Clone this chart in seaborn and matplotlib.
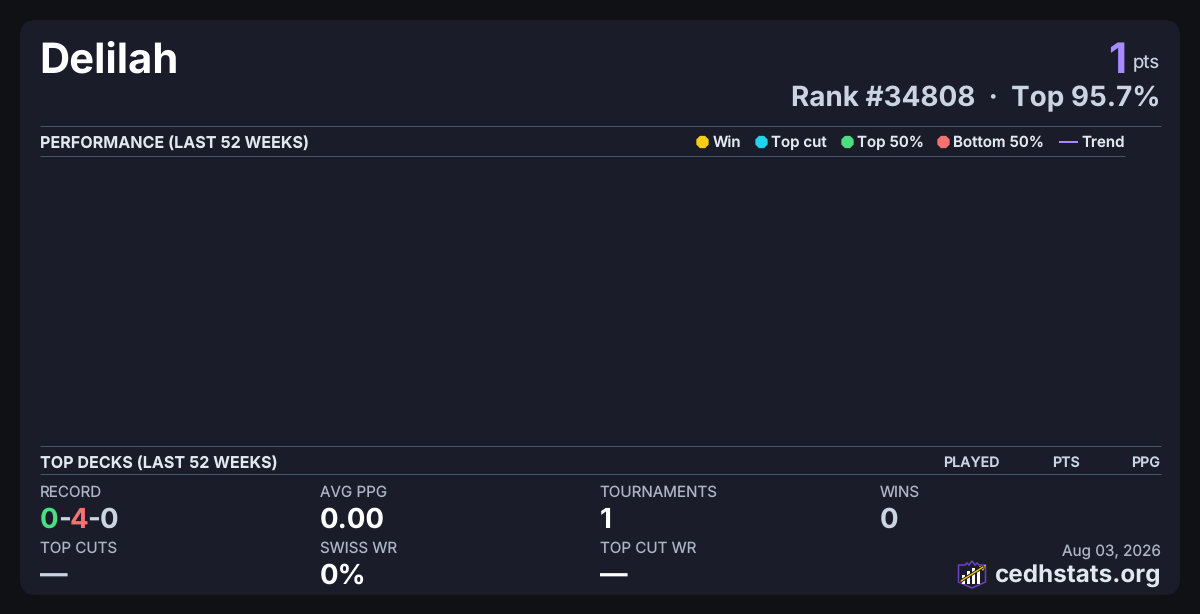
import matplotlib
matplotlib.use("Agg")
import matplotlib.pyplot as plt
from matplotlib.patches import FancyBboxPatch, Polygon, Rectangle
import pandas as pd
import seaborn as sns

# chart content
player = "Delilah"
points = "1"
rank_line = "Rank #34808  ·  Top 95.7%"
perf_title = "PERFORMANCE (LAST 52 WEEKS)"
decks_title = "TOP DECKS (LAST 52 WEEKS)"
legend_labels = ["Win", "Top cut", "Top 50%", "Bottom 50%"]
legend_colors = ["#facc15", "#22d3ee", "#4ade80", "#f87171"]
deck_columns = ["PLAYED", "PTS", "PPG"]
stat_labels = ["AVG PPG", "TOURNAMENTS", "WINS", "TOP CUTS", "SWISS WR", "TOP CUT WR"]
stat_values = ["0.00", "1", "0", "—", "0%", "—"]
record_parts = ["0", "-", "4", "-", "0"]
record_colors = ["#4ade80", "#cbd5e1", "#f87171", "#cbd5e1", "#cbd5e1"]
snapshot_date = "Aug 03, 2026"
site = "cedhstats.org"

BG = "#0f1115"
CARD = "#1a1d29"
RULE = "#475569"
LIGHT = "#e2e8f0"
MUTED = "#cbd5e1"
GREY = "#aeb6c4"
PURPLE = "#a78bfa"

sns.set_theme(style="white")
plt.rcParams["font.family"] = ["Inter", "DejaVu Sans"]
plt.rcParams["text.hinting"] = "no_hinting"

fig = plt.figure(figsize=(12, 6.14), dpi=100, facecolor=BG)
ax = fig.add_axes([0, 0, 1, 1])
ax.set_xlim(0, 1200)
ax.set_ylim(614, 0)
ax.axis("off")


def label(x, y, s, px, color=LIGHT, weight=400, ha="left"):
    # font size given in css pixels, y is the baseline
    return ax.text(x, y, s, fontsize=px * 0.72, color=color, fontweight=weight, ha=ha, va="baseline")


ax.add_patch(FancyBboxPatch((20, 20), 1160, 575, boxstyle="round,pad=0,rounding_size=16",
                            facecolor=CARD, edgecolor="none"))

# header
label(39.5, 73, player, 41.8, "#ffffff", 700)
label(1160, 68, "pts", 18.5, MUTED, ha="right")
label(1126.5, 73, points, 42, PURPLE, 700, ha="right")
label(1160.5, 106, rank_line, 27.85, MUTED, 700, ha="right")

# section rules
for x0, x1, y in [(40, 1160.5, 126), (40, 1125, 156), (40, 1160.5, 446), (40, 1160.5, 474)]:
    ax.plot([x0, x1], [y, y], color=RULE, lw=0.72, solid_capstyle="butt")

label(40, 148, perf_title, 16.12, LIGHT, 700)
label(40, 468, decks_title, 16.12, LIGHT, 700)

# legend
legend_df = pd.DataFrame({"x": [702.5, 761.5, 847.5, 943.5], "y": [142] * 4, "result": legend_labels})
sns.scatterplot(data=legend_df, x="x", y="y", hue="result", palette=legend_colors, s=92, marker="8",
                edgecolor="none", legend=False, ax=ax)
ax.set_xlim(0, 1200)
ax.set_ylim(614, 0)
ax.axis("off")
for x, s in zip([712.5, 771, 857, 953], legend_labels):
    label(x, 147, s, 15.1, LIGHT, 600)
ax.plot([1059, 1078], [142, 142], color=PURPLE, lw=1.44, solid_capstyle="butt")
label(1081, 147, "Trend", 15.1, LIGHT, 600)

# deck table header
for x, s in zip([1000, 1080, 1160], deck_columns):
    label(x, 467, s, 14.2, MUTED, 600, ha="right")

# stats
label(40, 496.6, "RECORD", 15.15, GREY)
fig.canvas.draw()
renderer = fig.canvas.get_renderer()
x = 40
for part, color in zip(record_parts, record_colors):
    t = label(x, 528, part, 27.6, color, 700)
    x += t.get_window_extent(renderer).width + (-1.2 if part == "-" else -0.7)

for x, y, s in zip([320, 599.6, 880, 40, 320, 600], [496.6, 496.6, 496.6, 552.6, 552.6, 552.6], stat_labels):
    label(x, y, s, 15.15, GREY)
value_colors = ["#ffffff", "#ffffff", MUTED, MUTED, "#ffffff", "#ffffff"]
for x, y, s, c in zip([320, 599.6, 880, 40, 320, 600], [528, 528, 528, 584, 584, 584], stat_values, value_colors):
    label(x, y, s, 27.6, c, 700)

# footer
label(1160.5, 556, snapshot_date, 15.3, GREY, ha="right")
label(1160.5, 582, site, 24.3, LIGHT, 700, ha="right")

# logo
shield = [(958.5, 565), (965, 565), (967, 563), (969, 565), (972, 561), (975, 565), (977, 563),
          (979, 565), (985.5, 565), (985.5, 582), (972, 588), (958.5, 582)]
ax.add_patch(Polygon(shield, closed=True, facecolor=CARD, edgecolor="#6d3fc4", lw=1.1))
for bx, top in zip([962, 967, 972, 977], [575, 571, 568, 570]):
    ax.add_patch(Rectangle((bx, top), 3, 584 - top, facecolor="#ffffff", edgecolor="none"))
ax.plot([961, 983], [581, 567], color="#111111", lw=2.2, solid_capstyle="round")
ax.plot([961, 983], [581, 567], color="#facc15", lw=1.0, solid_capstyle="round")
ax.add_patch(Polygon([(986, 565), (979, 566.5), (983, 571)], closed=True, facecolor="#facc15", edgecolor="none"))

fig.savefig("out.png", dpi=100, facecolor=BG)
